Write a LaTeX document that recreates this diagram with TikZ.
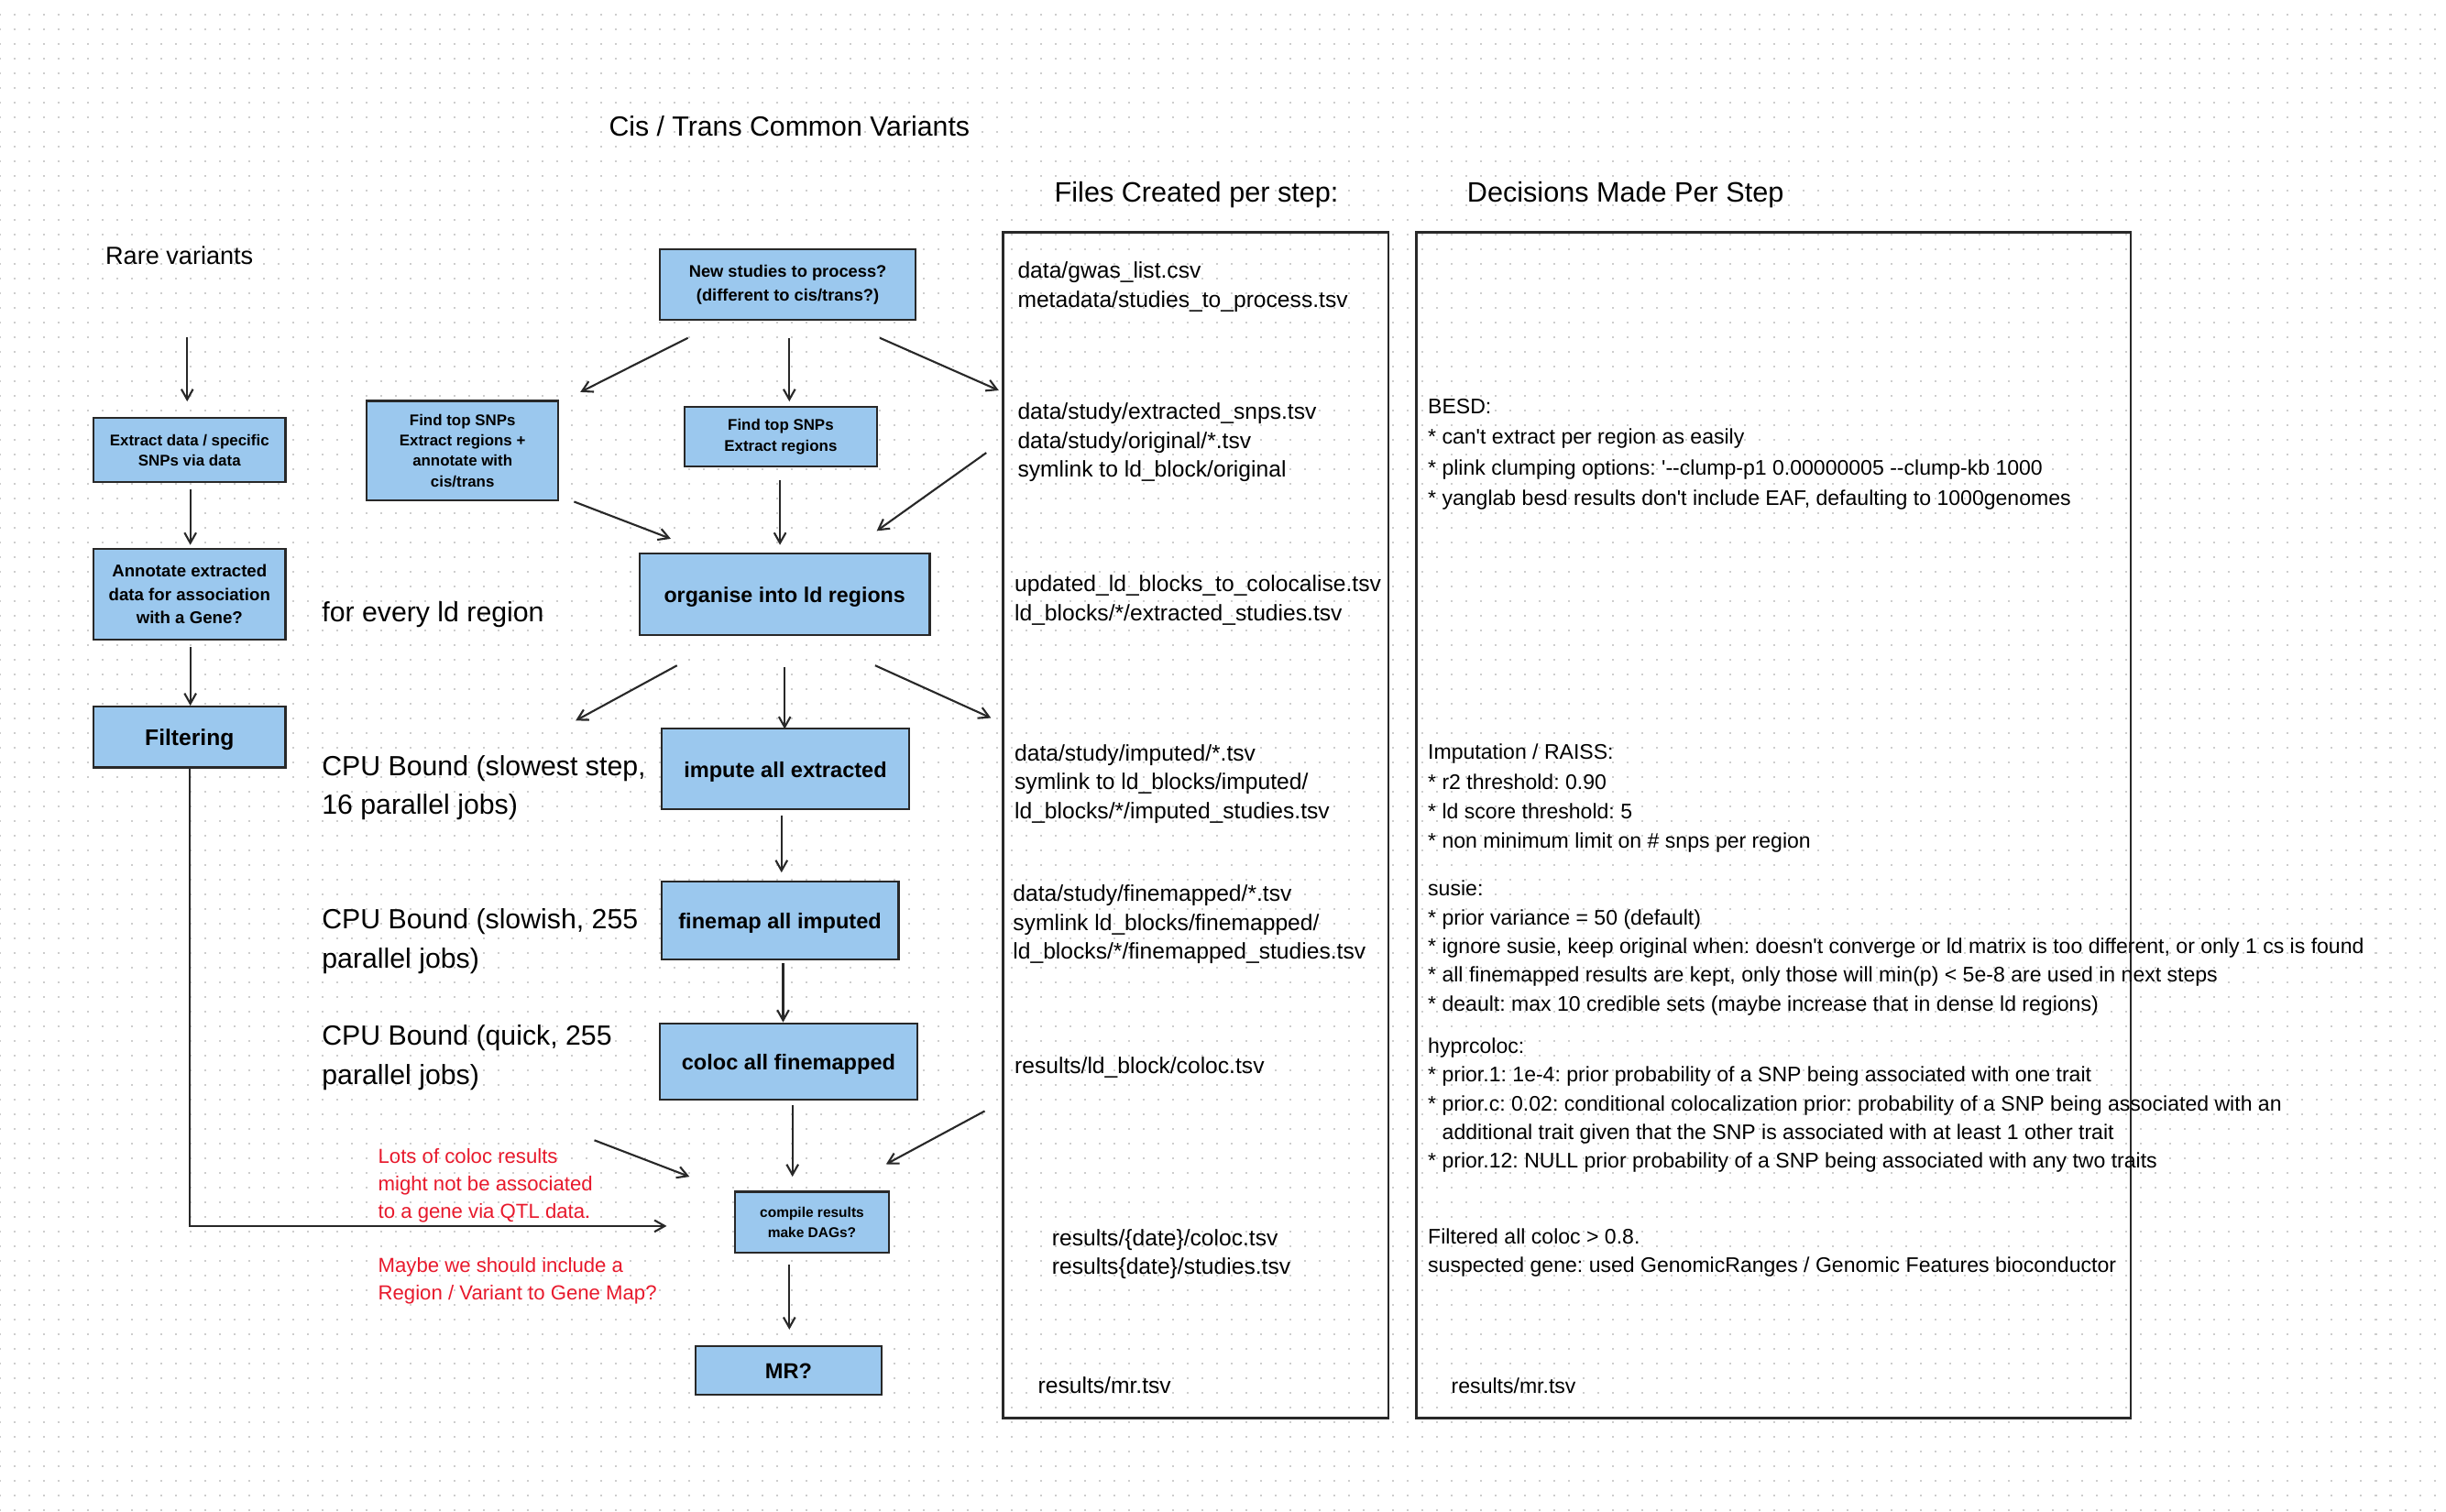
\documentclass[tikz,border=0pt]{standalone}
\usepackage{fontspec}
\setmainfont{Liberation Sans}
\newfontfamily\aptos{Liberation Sans}
\usetikzlibrary{arrows.meta,calc}
\definecolor{boxblue}{RGB}{155,200,238}
\definecolor{boxline}{RGB}{40,40,40}
\definecolor{dotgray}{RGB}{205,205,205}
\definecolor{notered}{RGB}{232,25,44}
\newcommand{\setfs}[2]{\fontsize{#1}{#2}\selectfont}
\tikzset{
  stepbox/.style={draw=boxline, fill=boxblue, line width=0.6pt, align=center, inner sep=0pt},
  oneline/.style={text height=5.2pt, text depth=0pt},
  sz/.style 2 args={minimum width=#1*0.017cm, minimum height=#2*0.017cm},
  colbox/.style={draw=boxline, line width=0.7pt, inner sep=0pt},
  coltext/.style={anchor=base west, align=left, inner sep=0pt, font=\setfs{7}{9}},
  dectext/.style={coltext, font=\setfs{6.55}{8.9}},
  sidetext/.style={anchor=west, align=left, inner sep=0pt, font=\setfs{8.6}{12.1}},
  redtext/.style={anchor=west, align=left, inner sep=0pt, text=notered, font=\setfs{6.3}{8.5}},
  arr/.style={-{Straight Barb[length=3.2pt,width=3.6pt]}, line width=0.6pt, draw=boxline},
}
\begin{document}
\aptos\frenchspacing
\begin{tikzpicture}[x=0.017cm,y=-0.017cm]
\useasboundingbox (0,0) rectangle (1568,969);
\fill[white] (0,0) rectangle (1568,969);
\foreach \k in {1,...,103}
  \draw[dotgray, line width=0.57pt, dash pattern=on 0.57pt off 3.977pt] (-0.6,\k*9.3996) -- (1568,\k*9.3996);

\node[font=\setfs{8.6}{10}] (title) at (506,81) {Cis / Trans Common Variants};
\node[font=\setfs{8.7}{10}] (fileshead) at (767,125) {Files Created per step:};
\node[font=\setfs{8.7}{10}] (dechead) at (1042,125) {Decisions Made Per Step};
\node[font=\setfs{7.7}{9}] (rarehead) at (115,164) {Rare variants};

\node[stepbox, sz={164}{45}, font=\setfs{5.2}{7.3}\bfseries] (new) at (505,182.5) {New studies to process?\\(different to cis/trans?)};
\node[stepbox, sz={123}{64}, font=\setfs{4.8}{6.3}\bfseries] (topcis) at (296.5,289) {Find top SNPs\\Extract regions +\\annotate with\\cis/trans};
\node[stepbox, sz={123}{38}, font=\setfs{4.8}{6.3}\bfseries] (top) at (500.5,280) {Find top SNPs\\Extract regions};
\node[stepbox, oneline, sz={186}{52}, font=\setfs{6.6}{8}\bfseries] (organise) at (503,381) {organise into ld regions};
\node[stepbox, oneline, sz={159}{52}, font=\setfs{6.7}{8}\bfseries] (impute) at (503.5,493) {impute all extracted};
\node[stepbox, oneline, sz={152}{50}, font=\setfs{6.7}{8}\bfseries] (finemap) at (500,590) {finemap all imputed};
\node[stepbox, oneline, sz={165}{49}, font=\setfs{6.7}{8}\bfseries] (coloc) at (505.5,680.5) {coloc all finemapped};
\node[stepbox, sz={99}{39}, font=\setfs{4.4}{6.3}\bfseries] (compile) at (520.5,783.5) {compile results\\make DAGs?};
\node[stepbox, oneline, sz={119}{31}, font=\setfs{6.7}{8}\bfseries] (mr) at (505.5,878.5) {MR?};
\node[stepbox, sz={123}{41}, font=\setfs{4.8}{6.3}\bfseries] (extract) at (121.5,288.5) {Extract data / specific\\SNPs via data};
\node[stepbox, sz={123}{58}, font=\setfs{5.3}{7.2}\bfseries] (annotate) at (121.5,381) {Annotate extracted\\data for association\\with a Gene?};
\node[stepbox, oneline, sz={123}{39}, font=\setfs{7}{8}\bfseries] (filter) at (121.5,472.5) {Filtering};

\node[colbox, sz={247}{760}] (files) at (766.5,529) {};
\node[colbox, sz={458}{760}] (decisions) at (1137,529) {};

\node[coltext] (gwas) at (652,197) {data/gwas\_list.csv\\metadata/studies\_to\_process.tsv};
\node[coltext] (extracted) at (652,306) {data/study/extracted\_snps.tsv\\data/study/original/*.tsv\\symlink to ld\_block/original};
\node[coltext] (ldblocks) at (650,398) {updated\_ld\_blocks\_to\_colocalise.tsv\\ld\_blocks/*/extracted\_studies.tsv};
\node[coltext] (imputed) at (650,525) {data/study/imputed/*.tsv\\symlink to ld\_blocks/imputed/\\ld\_blocks/*/imputed\_studies.tsv};
\node[coltext] (finemapped) at (649,615) {data/study/finemapped/*.tsv\\symlink ld\_blocks/finemapped/\\ld\_blocks/*/finemapped\_studies.tsv};
\node[coltext] (colocfile) at (650,688) {results/ld\_block/coloc.tsv};
\node[coltext] (results) at (674,817) {results/\{date\}/coloc.tsv\\results\{date\}/studies.tsv};
\node[coltext] (mrfile) at (665,893) {results/mr.tsv};

\node[dectext, font=\setfs{6.55}{9.5}] (besd) at (915,324) {BESD:\\* can't extract per region as easily\\* plink clumping options: '-{}-clump-p1 0.00000005 -{}-clump-kb 1000\\* yanglab besd results don't include EAF, defaulting to 1000genomes};
\node[dectext, font=\setfs{6.55}{9.2}] (raiss) at (915,544) {Imputation / RAISS:\\* r2 threshold: 0.90\\* ld score threshold: 5\\* non minimum limit on \# snps per region};
\node[dectext] (susie) at (915,648) {susie:\\* prior variance = 50 (default)\\* ignore susie, keep original when: doesn't converge or ld matrix is too different, or only 1 cs is found\\* all finemapped results are kept, only those will min(p) < 5e-8 are used in next steps\\* deault: max 10 credible sets (maybe increase that in dense ld regions)};
\node[dectext] (hyprcoloc) at (915,749) {hyprcoloc:\\* prior.1: 1e-4: prior probability of a SNP being associated with one trait\\* prior.c: 0.02: conditional colocalization prior: probability of a SNP being associated with an\\\hspace*{4.4pt}additional trait given that the SNP is associated with at least 1 other trait\\* prior.12: NULL prior probability of a SNP being associated with any two traits};
\node[dectext] (filtered) at (915,816) {Filtered all coloc > 0.8.\\suspected gene: used GenomicRanges / Genomic Features bioconductor};
\node[dectext] (mrdec) at (930,893) {results/mr.tsv};

\node[sidetext] (ldloop) at (206,394) {for every ld region};
\node[sidetext] (cpuslow) at (206,505) {CPU Bound (slowest step,\\16 parallel jobs)};
\node[sidetext] (cpumid) at (206,603.5) {CPU Bound (slowish, 255\\parallel jobs)};
\node[sidetext] (cpuquick) at (206,678) {CPU Bound (quick, 255\\parallel jobs)};
\node[redtext] (qtlnote) at (242,760) {Lots of coloc results\\might not be associated\\to a gene via QTL data.};
\node[redtext] (mapnote) at (242,821) {Maybe we should include a\\Region / Variant to Gene Map?};

\draw[arr] ($(new.south)+(-64,11)$) -- ($(topcis.north)+(75.5,-5)$);
\draw[arr] ($(new.south)+(1,11)$) -- ($(top.north)+(5.5,-3)$);
\draw[arr] ($(new.south)+(59,11)$) -- ($(files.north west)+(-2,102)$);
\draw[arr] ($(topcis.south)+(71.5,0)$) -- ($(organise.north)+(-73,-9)$);
\draw[arr] ($(top.south)+(-0.5,8)$) -- ($(organise.north)+(-3,-5)$);
\draw[arr] ($(files.north west)+(-10,142)$) -- ($(organise.north)+(59,-14)$);
\coordinate (cpuend) at (369,462);
\draw[arr] ($(organise.south)+(-69,19)$) -- (cpuend);
\draw[arr] ($(organise.south)+(0,20)$) -- ($(impute.north)+(-0.5,1)$);
\draw[arr] ($(organise.south)+(58,19)$) -- ($(files.north west)+(-7,312)$);
\draw[arr] ($(impute.south)+(-2.5,3)$) -- ($(finemap.north)+(1,-5)$);
\draw[arr] ($(finemap.south)+(2,2)$) -- ($(coloc.north)+(-3.5,0)$);
\coordinate (notestart) at (381,731);
\draw[arr] (notestart) -- ($(compile.north)+(-78.5,-9)$);
\draw[arr] ($(coloc.south)+(2.5,3)$) -- ($(compile.north)+(-12.5,-9)$);
\draw[arr] ($(files.north west)+(-11,564)$) -- ($(compile.north)+(47.5,-17)$);
\draw[arr] ($(compile.south)+(-14.5,7)$) -- ($(mr.north)+(0.5,-10)$);
\draw[arr] (filter.south) |- ($(compile.west)+(-43,2.5)$);
\coordinate (rarestart) at (120,216);
\draw[arr] (rarestart) -- ($(extract.north)+(-1.5,-10)$);
\draw[arr] ($(extract.south)+(0.5,4)$) -- ($(annotate.north)+(0.5,-2)$);
\draw[arr] ($(annotate.south)+(0.5,4)$) -- ($(filter.north)+(0.5,0)$);
\end{tikzpicture}
\end{document}
